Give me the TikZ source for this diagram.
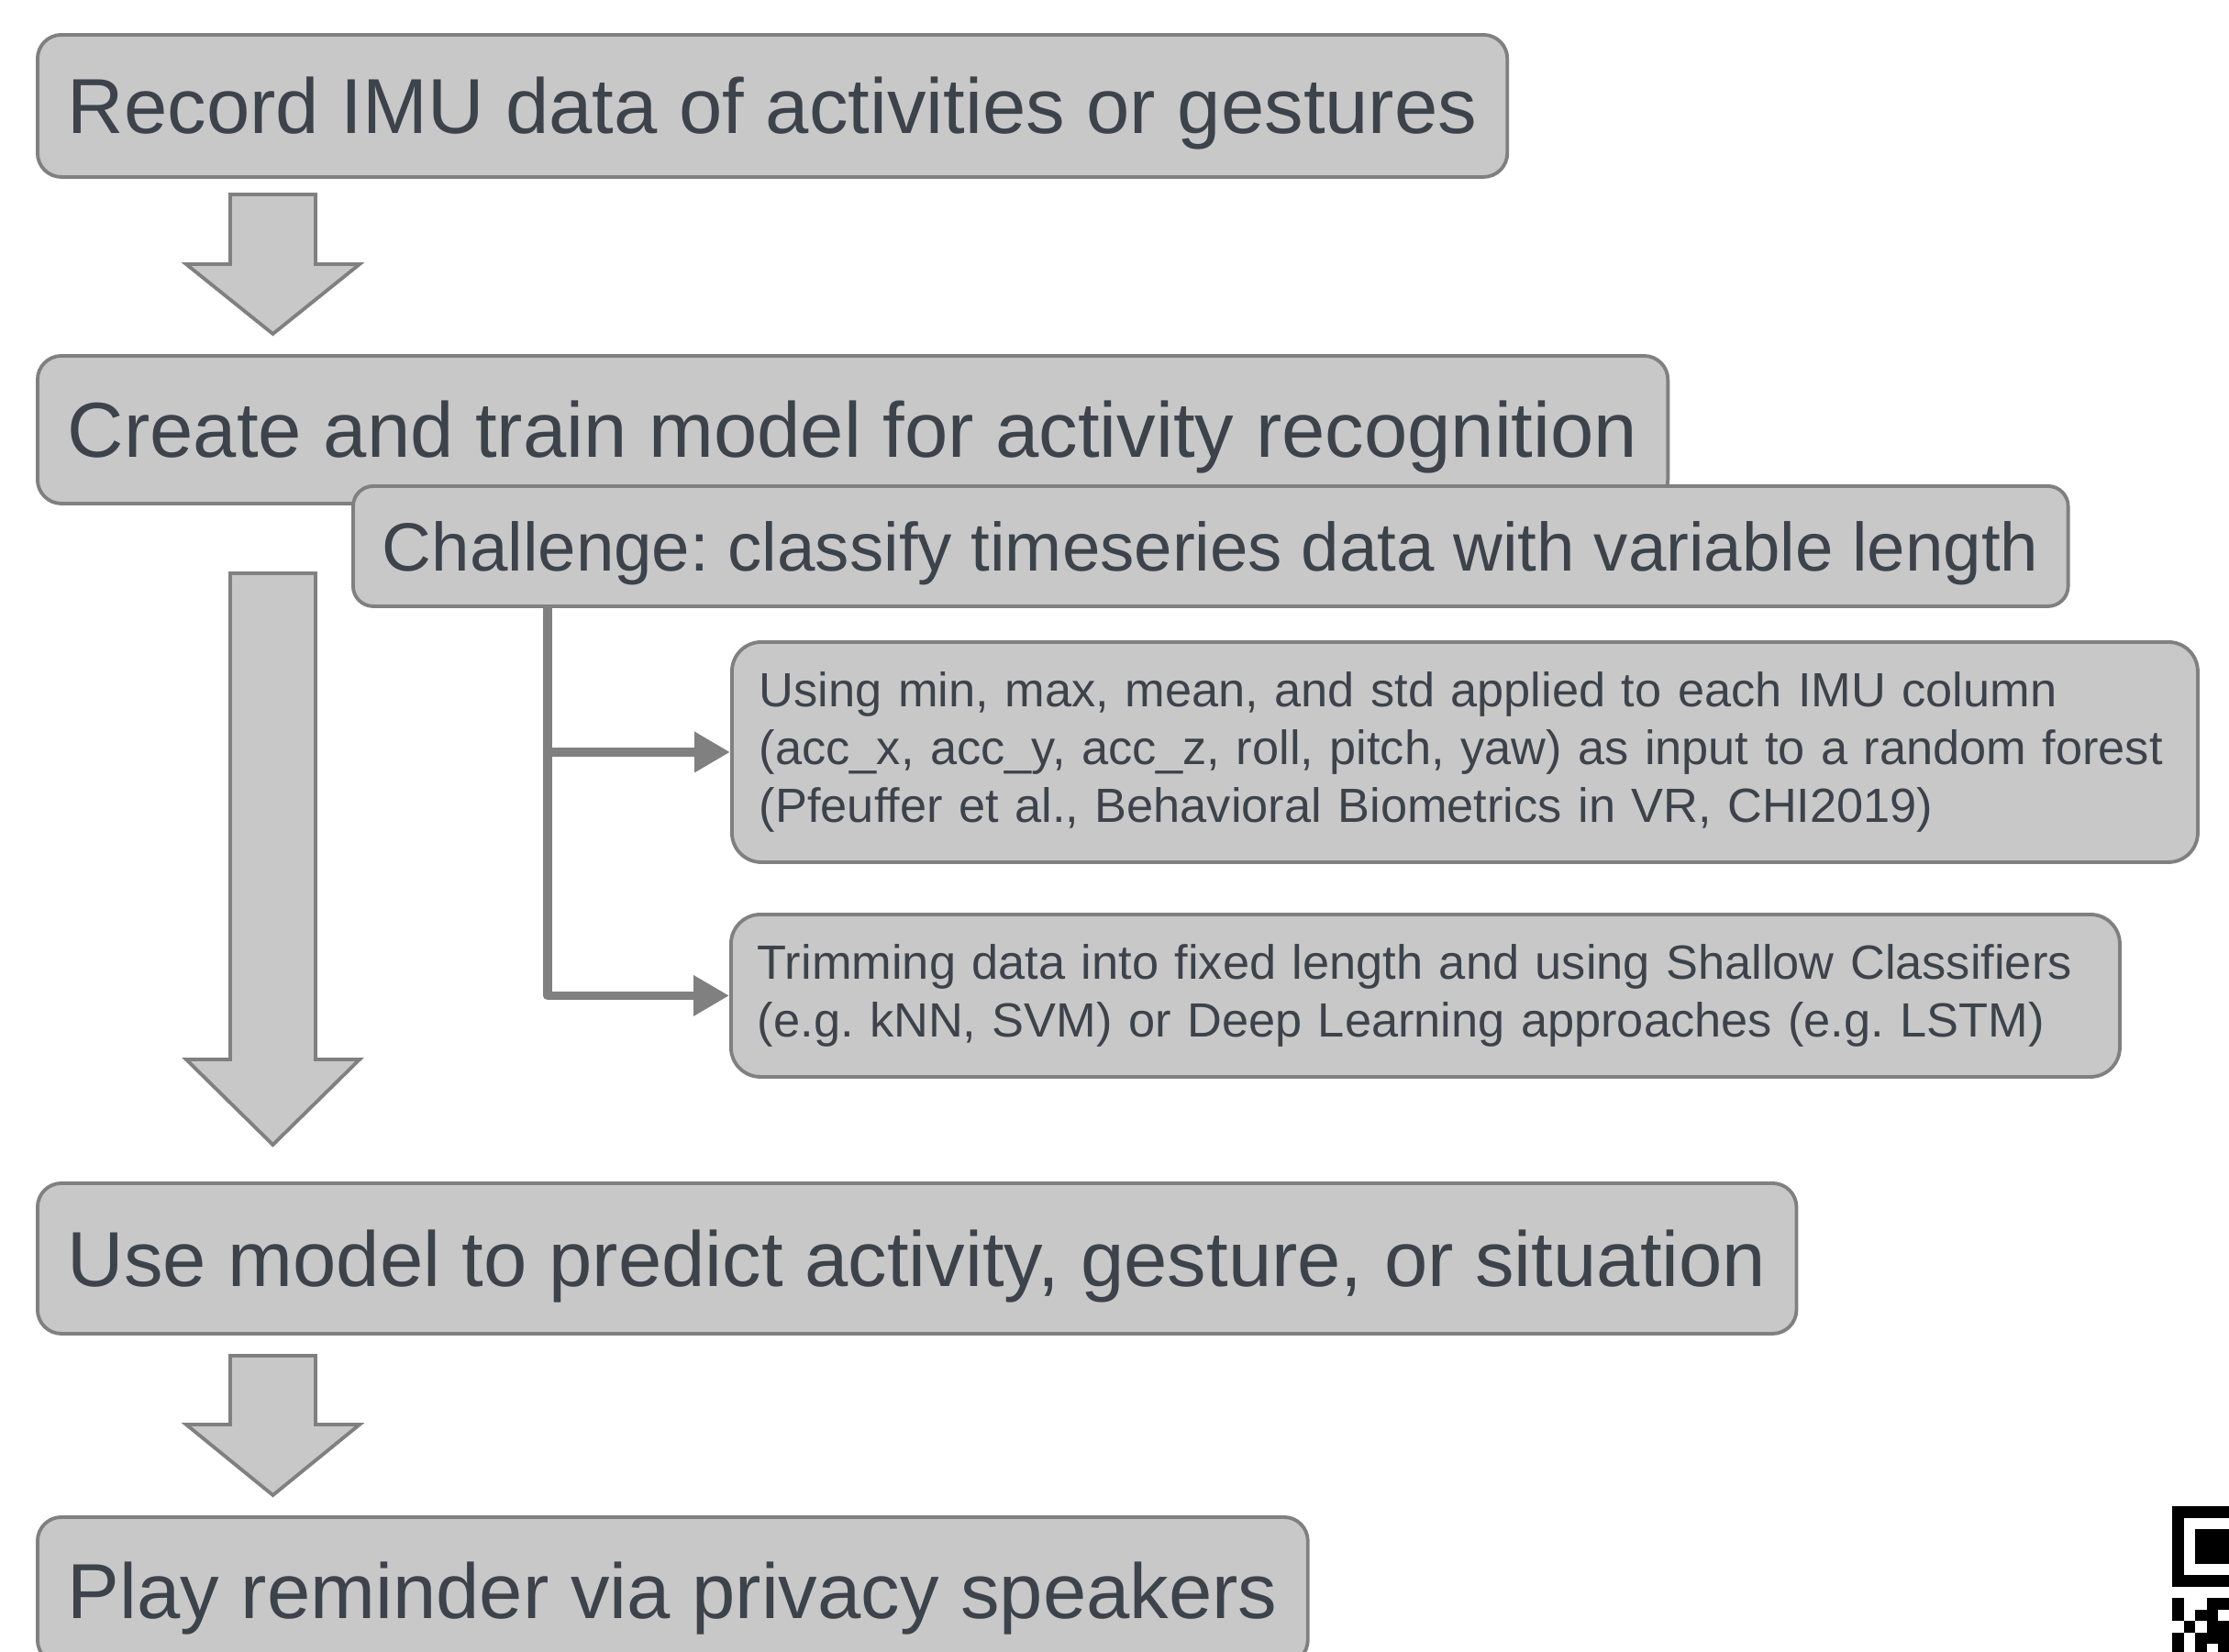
\documentclass[tikz,border=0pt]{standalone}
\usepackage{fontspec}
\setmainfont{Liberation Sans}
\usetikzlibrary{arrows.meta,calc}
\frenchspacing
\hyphenpenalty=10000
\definecolor{boxfill}{RGB}{200,200,200}
\definecolor{boxline}{RGB}{128,128,128}
\definecolor{txtgray}{RGB}{61,67,75}
\tikzset{
	stepnode/.style={draw=boxline, fill=boxfill, line width=1.1pt, text=txtgray, anchor=north west, inner ysep=0pt},
	bigstep/.style={stepnode, rounded corners=0.26cm, inner xsep=0.33cm, font=\fontsize{24.2}{29}\selectfont, text height=17.3pt, text depth=0pt},
	challenge/.style={stepnode, rounded corners=0.22cm, inner xsep=0.32cm, font=\fontsize{21.2}{25}\selectfont, text height=15.2pt, text depth=0pt},
	smallstep/.style={stepnode, rounded corners=0.32cm, font=\fontsize{14.9}{17.8}\selectfont, align=left},
	blockarrow/.style={draw=boxline, fill=boxfill, line width=1.1pt},
	branch/.style={draw=boxline, line width=2.8pt, line join=round, -{Triangle[length=0.39cm, width=0.42cm]}}
}
\begin{document}
\begin{tikzpicture}[yscale=-1]
	\useasboundingbox (0,0) rectangle (24.3,18);
	
	%main steps
	\node[bigstep, minimum height=1.55cm] (record) at (0.39,0.36) {Record IMU data of activities or gestures};
	\node[bigstep, minimum height=1.61cm] (train) at (0.39,3.86) {Create and train model for activity recognition};
	\node[challenge, minimum height=1.31cm] (chal) at (3.83,5.28) {Challenge: classify timeseries data with variable length};
	\node[smallstep, inner xsep=0.30cm, text width=15.38cm, minimum height=2.40cm] (forest) at (7.96,6.98) {Using min, max, mean, and std applied to each IMU column\\(acc\_x, acc\_y, acc\_z, roll, pitch, yaw) as input to a random forest\\(Pfeuffer et al., Behavioral Biometrics in VR, CHI2019)};
	\node[smallstep, inner xsep=0.29cm, text width=14.56cm, minimum height=1.77cm] (trim) at (7.95,9.95) {Trimming data into fixed length and using Shallow Classifiers\\(e.g. kNN, SVM) or Deep Learning approaches (e.g. LSTM)};
	\node[bigstep, minimum height=1.64cm] (predict) at (0.39,12.88) {Use model to predict activity, gesture, or situation};
	\node[bigstep, minimum height=1.60cm] (play) at (0.39,16.52) {Play reminder via privacy speakers};
	
	%block arrows
	\foreach \top/\neck/\tip in {2.12/2.88/3.64, 6.25/11.55/12.48, 14.78/15.53/16.30}{
		\draw[blockarrow] (2.51,\top) -- (3.44,\top) -- (3.44,\neck) -- (3.92,\neck) -- (2.975,\tip) -- (2.03,\neck) -- (2.51,\neck) -- cycle;
	}
	
	%branches
	\coordinate (fork) at ($(chal.south west)+(2.14,0)$);
	\draw[branch] (fork |- forest) -- (forest);
	\draw[branch] (fork) |- (trim);
	
	%qr code corner
	\fill (23.68,16.42) rectangle (24.555,17.295);
	\fill[white] (23.805,16.545) rectangle (24.43,17.17);
	\fill (23.93,16.67) rectangle (24.305,17.045);
	\foreach \c/\r in {0/0,3/0,4/0,0/1,2/1,3/1,1/2,3/2,4/2,0/3,2/3,3/3,4/3,0/4,2/4,4/4}{
		\fill ({23.68+0.125*\c},{17.42+0.125*\r}) rectangle ++(0.125,0.125);
	}
\end{tikzpicture}
\end{document}
